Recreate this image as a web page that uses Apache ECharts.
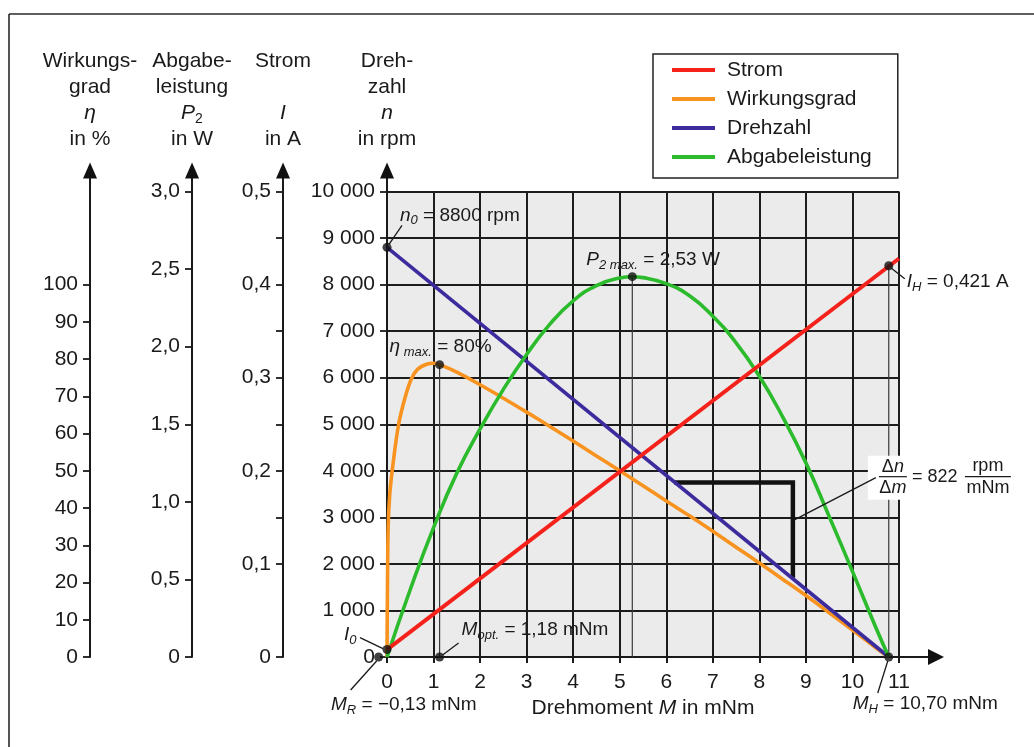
<!DOCTYPE html>
<html><head><meta charset="utf-8">
<script src="https://cdn.jsdelivr.net/npm/echarts@6/dist/echarts.min.js"></script>
<style>html,body{margin:0;padding:0;background:#fff}#c{width:1034px;height:747px}</style>
</head><body><div id="c"></div>
<script>
// ---------------- DATA ----------------
const torqueTicks = [0,1,2,3,4,5,6,7,8,9,10,11];          // Drehmoment M in mNm
const speedTickStep = 1000;                                 // Drehzahl n in rpm
const etaTicks = [0,10,20,30,40,50,60,70,80,90,100];        // Wirkungsgrad in %
const powerTicks = [0,0.5,1,1.5,2,2.5,3];                   // Abgabeleistung in W
const currentLabelTicks = [0,0.1,0.2,0.3,0.4,0.5];          // Strom in A
const currentTicks = [0,0.1,0.15,0.2,0.25,0.3,0.35,0.4,0.45,0.5];

const seriesNames = ['Strom','Wirkungsgrad','Drehzahl','Abgabeleistung'];

// Strom I (A)
const currentTorque = [0, 11];
const currentAmp    = [0.008, 0.428];
// Drehzahl n (rpm)
const speedTorque = [0, 10.78];
const speedRpm    = [8800, 0];
// Wirkungsgrad eta (%)
const effTorque  = [0,0.01,0.025,0.06,0.13,0.25,0.38,0.52,0.66,0.85,1.0,1.13,1.5,2,2.5,3,3.5,4,4.5,5,5.5,6,6.5,7,7.5,8,8.5,9,9.5,10,10.5,10.78];
const effPercent = [0,18.8,35.0,43.8,51.9,62.5,69.3,74.6,77.3,78.6,78.9,78.5,76.5,73.1,69.5,65.75,61.9,58.0,54.0,50.0,46.0,41.9,37.9,33.75,29.5,25.25,20.9,16.5,11.9,7.25,2.5,0];
// Abgabeleistung P2 (W)
const powerTorque = [0,0.5,1.0,1.5,2.0,2.5,3.0,3.5,4.0,4.5,5.0,5.27,5.5,6.0,6.5,7.0,7.5,8.0,8.5,9.0,9.5,10.0,10.5,10.78];
const powerWatt   = [0,0.435,0.834,1.185,1.47,1.725,1.95,2.145,2.295,2.394,2.442,2.451,2.445,2.406,2.328,2.196,2.025,1.809,1.548,1.251,0.906,0.552,0.192,0];

// marked points
const n0Point     = [0, 8800];     // rpm axis
const etaMaxPoint = [1.13, 78.5];  // % axis
const p2MaxPoint  = [5.27, 2.451]; // W axis
const iHPoint     = [10.78, 0.4202]; // A axis
const i0Point     = [0, 0.008];    // A axis
const mRPoint     = [-0.18, 0];
const mOptPoint   = [1.13, 0];
const mHPoint     = [10.78, 0];
// slope triangle on the Drehzahl line
const slopeTorque = [6.17, 8.72, 8.72];
const slopeRpm    = [3750, 3750, 1700];
const slopeAnchor = [8.72, 2950];

// ---------------- STYLE ----------------
const FONT = '"Liberation Sans", Arial, Helvetica, sans-serif';
const INK = '#1a1a1a';
const COL = {Strom:'#f4221b', Wirkungsgrad:'#f7931e', Drehzahl:'#3b2b9c', Abgabeleistung:'#2cbb2c'};
const GRID = {left:387, top:191.5, width:512, height:465.5};
const AX_OFF = [0, 104, 195, 297];

const zip = (a,b) => a.map((v,i)=>[v,b[i]]);
const comma = v => v === 0 ? '0' : v.toFixed(1).replace('.', ',');
const thousands = v => v === 0 ? '0' : String(v).replace(/\B(?=(\d{3})+(?!\d))/g, ' ');

const nameRich = {
  t:{fontSize:21, fontFamily:FONT, color:INK, lineHeight:26},
  i:{fontSize:21, fontFamily:FONT, color:INK, fontStyle:'italic', lineHeight:26},
  s:{fontSize:14, fontFamily:FONT, color:INK, lineHeight:14, verticalAlign:'bottom'}
};

function yAx(idx, min, max, labels, ticks, fmt, name, extra) {
  return Object.assign({
    type:'value', min, max, position:'left', offset:AX_OFF[idx],
    name, nameLocation:'end', nameGap:39, nameMoveOverlap:false,
    nameTextStyle:{align:'center', verticalAlign:'bottom', fontSize:21, fontFamily:FONT, color:INK, lineHeight:26, rich:nameRich},
    axisLine:{show:true, onZero:false, lineStyle:{color:INK, width:2}},
    axisTick:{show:true, length:7, inside:false, lineStyle:{color:INK, width:1.8}, customValues:ticks},
    axisLabel:{show:true, margin:12, fontSize:21, fontFamily:FONT, color:INK, formatter:fmt, customValues:labels},
    splitLine:{show:false}
  }, extra || {});
}

const chart = echarts.init(document.getElementById('c'), null, {renderer:'canvas'});

const lineSeries = (name, yIdx, data, extra) => Object.assign({
  name, type:'line', yAxisIndex:yIdx, data, symbol:'none', showSymbol:false,
  lineStyle:{color:COL[name], width:3.6}, itemStyle:{color:COL[name]}, z:5, silent:true
}, extra || {});

const thin = {type:'line', symbol:'none', silent:true, lineStyle:{color:'#3a3a3a', width:1.2}, z:4};

const option = {
  animation:false,
  backgroundColor:'#ffffff',
  textStyle:{fontFamily:FONT},
  grid:{left:GRID.left, top:GRID.top, width:GRID.width, height:GRID.height, show:true,
        backgroundColor:'#ebebeb', borderWidth:0, containLabel:false, outerBoundsMode:'none'},
  legend:{
    data:seriesNames, orient:'vertical', left:653, top:54,
    padding:[5,26,10,19], itemGap:7, itemWidth:43, itemHeight:4, icon:'rect',
    borderColor:'#222', borderWidth:1.5, backgroundColor:'#fff',
    textStyle:{fontSize:21, fontFamily:FONT, color:INK, lineHeight:22, padding:[0,0,0,7]},
    selectedMode:false
  },
  xAxis:{
    type:'value', min:torqueTicks[0], max:torqueTicks[torqueTicks.length-1], interval:1,
    name:'{t|Drehmoment }{i|M}{t| in mNm}', nameLocation:'middle', nameGap:49,
    nameTextStyle:{verticalAlign:'middle', rich:{
      t:{fontSize:21, fontFamily:FONT, color:INK},
      i:{fontSize:21, fontFamily:FONT, color:INK, fontStyle:'italic'}}},
    axisLine:{show:true, onZero:false, lineStyle:{color:INK, width:2}},
    axisTick:{show:true, length:6, lineStyle:{color:INK, width:2}},
    axisLabel:{margin:15, fontSize:21, fontFamily:FONT, color:INK},
    splitLine:{show:true, lineStyle:{color:'#1c1c1c', width:2}}
  },
  yAxis:[
    yAx(0, 0, 10000, null, null, thousands, '{t|Dreh-}\n{t|zahl}\n{i|n}\n{t|in rpm}',
      {interval:speedTickStep, axisTick:{show:true, length:7, lineStyle:{color:INK, width:1.8}},
       axisLabel:{show:true, margin:12, fontSize:21, fontFamily:FONT, color:INK, formatter:thousands},
       splitLine:{show:true, lineStyle:{color:'#1c1c1c', width:2}}}),
    yAx(1, 0, 0.5, currentLabelTicks, currentTicks, comma, '{t|Strom}\n{t| }\n{i|I}\n{t|in A}'),
    yAx(2, 0, 3, powerTicks, powerTicks, comma, '{t|Abgabe-}\n{t|leistung}\n{i|P}{s|2}\n{t|in W}'),
    yAx(3, 0, 125, etaTicks, etaTicks, v=>String(v), '{t|Wirkungs-}\n{t|grad}\n{i|η}\n{t|in %}')
  ],
  series:[
    Object.assign({}, thin, {yAxisIndex:3, data:[[etaMaxPoint[0],0], etaMaxPoint]}),
    Object.assign({}, thin, {yAxisIndex:2, data:[[p2MaxPoint[0],0], p2MaxPoint]}),
    Object.assign({}, thin, {yAxisIndex:1, data:[[iHPoint[0],0], iHPoint]}),
    {type:'line', yAxisIndex:0, data:zip(slopeTorque, slopeRpm), symbol:'none', silent:true, z:4,
     lineStyle:{color:'#111', width:4.5, join:'miter', cap:'butt'}},
    lineSeries('Wirkungsgrad', 3, zip(effTorque, effPercent), {smooth:0.35}),
    lineSeries('Drehzahl', 0, zip(speedTorque, speedRpm)),
    lineSeries('Abgabeleistung', 2, zip(powerTorque, powerWatt), {smooth:0.5}),
    lineSeries('Strom', 1, zip(currentTorque, currentAmp), {lineStyle:{color:COL.Strom, width:4}}),
    {id:'dotsN', type:'scatter', yAxisIndex:0, data:[n0Point, mRPoint, mOptPoint, mHPoint], symbolSize:9, clip:false, itemStyle:{color:'#111'}, z:10, silent:true},
    {id:'dotsEta', type:'scatter', yAxisIndex:3, data:[etaMaxPoint], symbolSize:9, clip:false, itemStyle:{color:'#111'}, z:10, silent:true},
    {id:'dotsP2', type:'scatter', yAxisIndex:2, data:[p2MaxPoint], symbolSize:9, clip:false, itemStyle:{color:'#111'}, z:10, silent:true},
    {id:'dotsI', type:'scatter', yAxisIndex:1, data:[iHPoint, i0Point], symbolSize:9, clip:false, itemStyle:{color:'#111'}, z:10, silent:true}
  ]
};
chart.setOption(option);

// ---------------- decorations computed from the scales ----------------
const px = (id, p) => chart.convertToPixel({seriesId:id}, p);
const xL = chart.convertToPixel({xAxisIndex:0}, 0);
const xR = chart.convertToPixel({xAxisIndex:0}, 11);
const yT = chart.convertToPixel({yAxisIndex:0}, 10000);
const yB = chart.convertToPixel({yAxisIndex:0}, 0);

const g = [];
const LS = {stroke:INK, lineWidth:1.3};
const line = (a,b,st) => g.push({type:'line', z:100, silent:true, shape:{x1:a[0],y1:a[1],x2:b[0],y2:b[1]}, style:Object.assign({}, LS, st||{})});
const poly = pts => g.push({type:'polygon', z:100, silent:true, shape:{points:pts}, style:{fill:'#111'}});
const aRich = {
  t:{fontSize:19, fontFamily:FONT, fill:INK, color:INK, lineHeight:24},
  i:{fontSize:19, fontFamily:FONT, fill:INK, color:INK, fontStyle:'italic', lineHeight:24},
  s:{fontSize:13, fontFamily:FONT, fill:INK, color:INK, fontStyle:'italic', lineHeight:14, verticalAlign:'bottom'}
};
const text = (x, y, str, align, size) => g.push({type:'text', z:101, silent:true, x, y,
  style:{text:str, rich:aRich, fill:INK, fontSize:size||19, fontFamily:FONT, align:align||'left', verticalAlign:'middle'}});
const plain = (x, y, str, align, italic) => g.push({type:'text', z:101, silent:true, x, y,
  style:{text:str, fill:INK, fontSize:18, fontFamily:FONT, fontStyle:italic?'italic':'normal', align:align||'center', verticalAlign:'middle'}});

// frame
line([9,14],[1034,14],{stroke:'#2a2a2a', lineWidth:1.6});
line([9,14],[9,747],{stroke:'#2a2a2a', lineWidth:1.6});

// axis arrows
AX_OFF.forEach(o => {
  const ax = xL - o;
  line([ax, yT], [ax, yT-15], {lineWidth:2});
  poly([[ax, yT-29],[ax-7, yT-13],[ax+7, yT-13]]);
});
line([xR, yB], [xR+30, yB], {lineWidth:2});
poly([[xR+45, yB],[xR+29, yB-8],[xR+29, yB+8]]);

// annotations
let p;
p = px('dotsN', n0Point);      line([p[0]+2,p[1]-3],[p[0]+15,p[1]-22]); text(p[0]+13, p[1]-32, '{i|n}{s|0}{t| = 8800 rpm}');
p = px('dotsEta', etaMaxPoint); text(p[0]-50, p[1]-18, '{i|η}{s| max.}{t| = 80%}');
p = px('dotsP2', p2MaxPoint);  text(p[0]-46, p[1]-17, '{i|P}{s|2 max.}{t| = 2,53 W}');
p = px('dotsI', iHPoint);      line([p[0]+2,p[1]+2],[p[0]+16,p[1]+13]); text(p[0]+18, p[1]+16, '{i|I}{s|H}{t| = 0,421 A}');
p = px('dotsI', i0Point);      line([p[0]-4,p[1]-1],[p[0]-27,p[1]-12]); text(p[0]-43, p[1]-15, '{i|I}{s|0}');
p = px('dotsN', mOptPoint);    line([p[0]+3,p[1]-2],[p[0]+19,p[1]-14]); text(p[0]+22, p[1]-27, '{i|M}{s|opt.}{t| = 1,18 mNm}');
p = px('dotsN', mRPoint);      line([p[0]-2,p[1]+4],[p[0]-28,p[1]+33]); text(p[0]+98, p[1]+48, '{i|M}{s|R}{t| = −0,13 mNm}', 'right');
p = px('dotsN', mHPoint);      line([p[0]-1,p[1]+4],[p[0]-11,p[1]+36]); text(p[0]-36, p[1]+47, '{i|M}{s|H}{t| = 10,70 mNm}');

p = px('dotsN', slopeAnchor);
g.push({type:'rect', z:99, silent:true, shape:{x:p[0]+75, y:p[1]-64, width:146, height:44}, style:{fill:'#ffffff'}});
line([p[0]+2,p[1]],[p[0]+83,p[1]-42]);
const fr = {u:{fontSize:18,fontFamily:FONT,fill:INK},i:{fontSize:18,fontFamily:FONT,fill:INK,fontStyle:'italic'}};
g.push({type:'text', z:101, silent:true, x:p[0]+100, y:p[1]-53, style:{text:'{u|Δ}{i|n}', rich:fr, align:'center', verticalAlign:'middle'}});
line([p[0]+86,p[1]-43],[p[0]+114,p[1]-43],{lineWidth:1.2});
g.push({type:'text', z:101, silent:true, x:p[0]+100, y:p[1]-32, style:{text:'{u|Δ}{i|m}', rich:fr, align:'center', verticalAlign:'middle'}});
plain(p[0]+119, p[1]-43, '= 822', 'left');
plain(p[0]+195, p[1]-54, 'rpm', 'center');
line([p[0]+172,p[1]-43],[p[0]+218,p[1]-43],{lineWidth:1.2});
plain(p[0]+195, p[1]-32, 'mNm', 'center');

chart.setOption({graphic:g});
</script>
</body></html>
